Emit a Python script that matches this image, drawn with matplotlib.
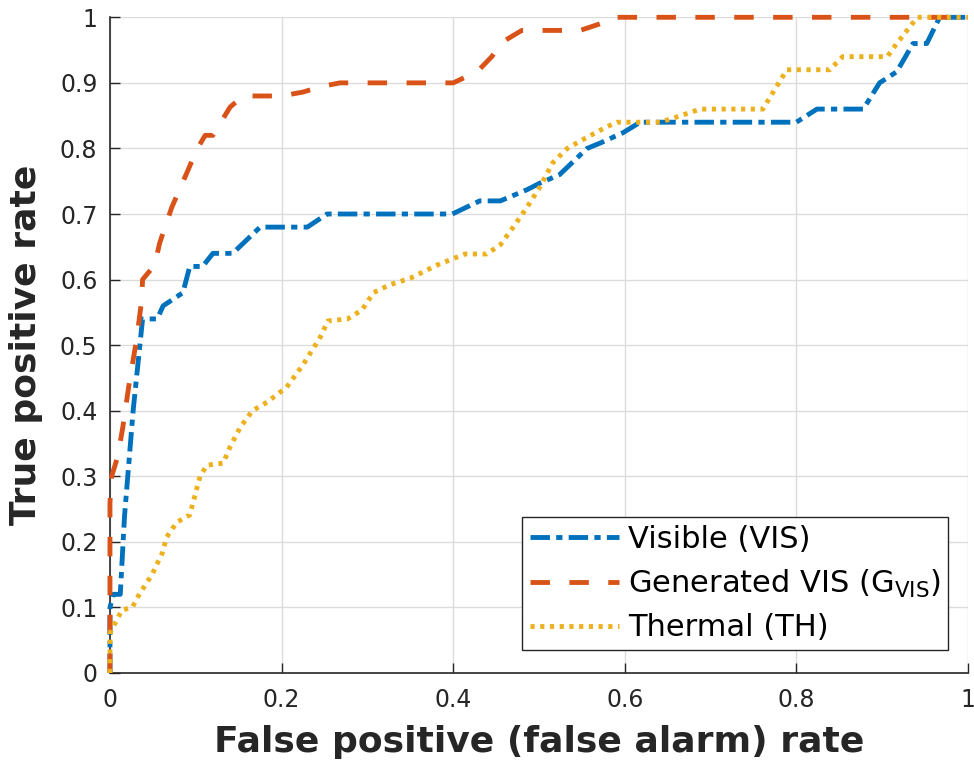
import numpy as np
import matplotlib
matplotlib.use("Agg")
import matplotlib.pyplot as plt

# ROC curves
vis_fpr = [0, 0, 0.004, 0.012, 0.017, 0.027, 0.038, 0.055, 0.062, 0.085, 0.093, 0.108, 0.12, 0.143,
           0.175, 0.23, 0.253, 0.399, 0.431, 0.455, 0.486, 0.501, 0.524, 0.556, 0.571, 0.598, 0.618,
           0.80, 0.824, 0.878, 0.897, 0.917, 0.936, 0.952, 0.967, 1.0]
vis_tpr = [0, 0.10, 0.12, 0.12, 0.24, 0.40, 0.54, 0.54, 0.56, 0.58, 0.62, 0.62, 0.64, 0.64,
           0.68, 0.68, 0.70, 0.70, 0.72, 0.72, 0.737, 0.747, 0.76, 0.80, 0.808, 0.824, 0.84,
           0.84, 0.86, 0.86, 0.90, 0.917, 0.96, 0.96, 1.0, 1.0]

gen_fpr = [0, 0, 0.002, 0.009, 0.015, 0.023, 0.031, 0.037, 0.038, 0.052, 0.058, 0.072, 0.082, 0.091,
           0.101, 0.111, 0.12, 0.14, 0.155, 0.20, 0.225, 0.245, 0.268, 0.40, 0.428, 0.445, 0.457,
           0.48, 0.548, 0.571, 0.585, 1.0]
gen_tpr = [0, 0.26, 0.30, 0.33, 0.375, 0.447, 0.508, 0.569, 0.60, 0.622, 0.656, 0.71, 0.74, 0.767,
           0.798, 0.82, 0.82, 0.863, 0.88, 0.88, 0.886, 0.894, 0.90, 0.90, 0.917, 0.94, 0.962,
           0.98, 0.98, 0.99, 1.0, 1.0]

th_fpr = [0, 0, 0.014, 0.026, 0.035, 0.049, 0.061, 0.066, 0.078, 0.093, 0.105, 0.113, 0.132, 0.14,
          0.152, 0.166, 0.183, 0.206, 0.225, 0.245, 0.254, 0.277, 0.294, 0.307, 0.326, 0.35, 0.381,
          0.404, 0.414, 0.439, 0.455, 0.47, 0.486, 0.501, 0.516, 0.533, 0.556, 0.579, 0.591, 0.641,
          0.656, 0.688, 0.761, 0.773, 0.789, 0.839, 0.854, 0.906, 0.917, 0.941, 1.0]
th_tpr = [0, 0.061, 0.096, 0.10, 0.122, 0.15, 0.183, 0.207, 0.23, 0.241, 0.30, 0.317, 0.32, 0.345,
          0.375, 0.40, 0.413, 0.436, 0.47, 0.512, 0.537, 0.54, 0.554, 0.58, 0.592, 0.602, 0.622,
          0.634, 0.639, 0.639, 0.653, 0.68, 0.71, 0.741, 0.778, 0.80, 0.817, 0.833, 0.84, 0.84,
          0.846, 0.86, 0.86, 0.886, 0.92, 0.92, 0.94, 0.94, 0.96, 1.0, 1.0]

labels = ["Visible (VIS)", "Generated VIS (G$_{\\mathrm{VIS}}$)", "Thermal (TH)"]
colors = ["#0072BD", "#D95319", "#EDB120"]

plt.rcParams['font.family'] = ['DejaVu Sans']
plt.rcParams['lines.scale_dashes'] = False

fig = plt.figure(figsize=(9.74, 7.62), dpi=100)
ax = fig.add_axes([0.1129, 0.1168, 0.8809, 0.8605])

lw = 3.5
ax.plot(vis_fpr, vis_tpr, color=colors[0], lw=lw, dashes=(14, 4.5, 4.5, 4.5),
        label=labels[0], clip_on=False, zorder=3)
ax.plot(gen_fpr, gen_tpr, color=colors[1], lw=lw, dashes=(14, 14),
        label=labels[1], clip_on=False, zorder=3)
ax.plot(th_fpr, th_tpr, color=colors[2], lw=lw, dashes=(3, 4),
        label=labels[2], clip_on=False, zorder=3)

ax.set_xlim(0, 1)
ax.set_ylim(0, 1)
ax.set_xticks(np.arange(0, 1.01, 0.2))
ax.set_yticks(np.arange(0, 1.01, 0.1))
ax.set_xticklabels(["0", "0.2", "0.4", "0.6", "0.8", "1"])
ax.set_yticklabels(["0", "0.1", "0.2", "0.3", "0.4", "0.5", "0.6", "0.7", "0.8", "0.9", "1"])

ax.grid(True, color="#dcdcdc", lw=1)
ax.set_axisbelow(True)
ax.spines['top'].set_visible(False)
ax.spines['right'].set_visible(False)
for s in ['left', 'bottom']:
    ax.spines[s].set_color("#262626")
    ax.spines[s].set_linewidth(1.2)
ax.tick_params(direction='in', length=7, width=1, colors="#262626", labelsize=17)
ax.tick_params(axis='x', pad=11)
ax.tick_params(axis='y', pad=9)

ax.set_xlabel("False positive (false alarm) rate", fontsize=26, fontweight='bold',
              color="#262626", labelpad=9)
ax.set_ylabel("True positive rate", fontsize=26, fontweight='bold',
              color="#262626", labelpad=12)

leg = ax.legend(loc='lower right', bbox_to_anchor=(0.977, 0.035), borderaxespad=0,
                fontsize=22, handlelength=2.9, handletextpad=0.3, labelspacing=0.45,
                fancybox=False, framealpha=1, edgecolor="#262626", borderpad=0.25)
leg.get_frame().set_linewidth(1)

fig.savefig("out.png", dpi=100)
